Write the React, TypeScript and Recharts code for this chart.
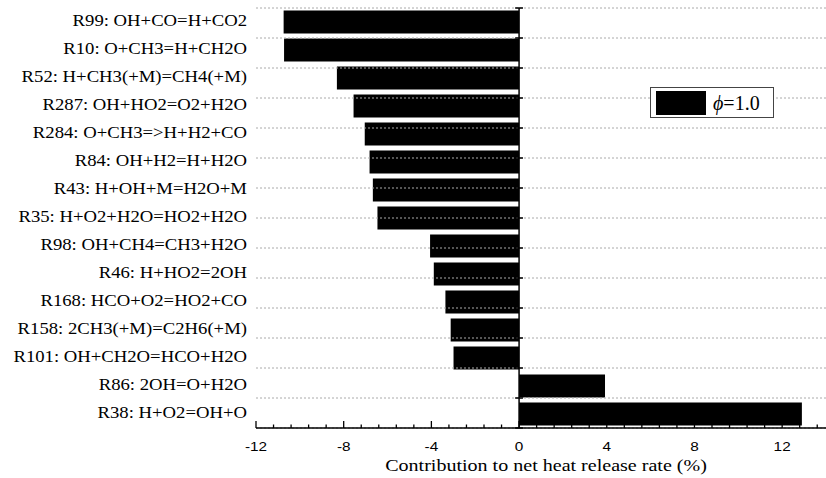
import { BarChart, Bar, XAxis, YAxis, ReferenceLine, Legend } from 'recharts';

const reactions = [
  'R99: OH+CO=H+CO2',
  'R10: O+CH3=H+CH2O',
  'R52: H+CH3(+M)=CH4(+M)',
  'R287: OH+HO2=O2+H2O',
  'R284: O+CH3=>H+H2+CO',
  'R84: OH+H2=H+H2O',
  'R43: H+OH+M=H2O+M',
  'R35: H+O2+H2O=HO2+H2O',
  'R98: OH+CH4=CH3+H2O',
  'R46: H+HO2=2OH',
  'R168: HCO+O2=HO2+CO',
  'R158: 2CH3(+M)=C2H6(+M)',
  'R101: OH+CH2O=HCO+H2O',
  'R86: 2OH=O+H2O',
  'R38: H+O2=OH+O',
];

const contribution = [
  -10.74, -10.72, -8.31, -7.55, -7.04, -6.82, -6.67, -6.46,
  -4.06, -3.89, -3.36, -3.12, -2.99, 3.92, 12.9,
];

const majorTicks = [-12, -8, -4, 0, 4, 8, 12];
// minor ticks every 0.8 between majors
const allTicks = Array.from({ length: 33 }, (_, i) => Math.round((-12 + i * 0.8) * 10) / 10);
// category boundaries on the helper axis
const boundaries = Array.from({ length: reactions.length + 1 }, (_, i) => i);

const data = reactions.map((name, i) => ({ name, value: contribution[i] }));

const SX = 1.18; // the source figure is stretched horizontally
const SX_LABEL = 1.1;
const serif = '"Liberation Serif", "Times New Roman", serif';
const sans = '"Liberation Sans", Arial, sans-serif';

const CategoryTick = (props: any) => {
  const { x, y, payload } = props;
  return (
    <text
      transform={`translate(${x},${y}) scale(${SX_LABEL},1)`}
      textAnchor="end"
      dy={4}
      fontFamily={serif}
      fontSize={17}
      fill="#000"
    >
      {payload.value}
    </text>
  );
};

const ValueTick = (props: any) => {
  const { x, y, payload } = props;
  const major = majorTicks.includes(payload.value);
  return (
    <g>
      <line x1={x} x2={x} y1={y} y2={y - (major ? 7 : 3.5)} stroke="#000" strokeWidth={1.3} />
      {major && (
        <text
          transform={`translate(${x},${y}) scale(${SX},1)`}
          textAnchor="middle"
          dy={23.4}
          fontFamily={sans}
          fontSize={13}
          fill="#000"
        >
          {payload.value}
        </text>
      )}
    </g>
  );
};

const AxisTitle = (props: any) => {
  const { viewBox } = props;
  const cx = viewBox.x + viewBox.width / 2 + 5;
  return (
    <text
      transform={`translate(${cx},${viewBox.y + 42.5}) scale(${SX},1)`}
      textAnchor="middle"
      fontFamily={serif}
      fontSize={17}
      fill="#000"
    >
      Contribution to net heat release rate (%)
    </text>
  );
};

const LegendBox = () => (
  <div
    style={{
      display: 'flex',
      alignItems: 'center',
      border: '1px solid #444',
      background: '#fff',
      width: 124,
      height: 31,
      boxSizing: 'border-box',
      padding: '0 0 0 5px',
    }}
  >
    <div style={{ width: 50, height: 24, background: '#000' }} />
    <span style={{ fontFamily: serif, fontSize: 20, marginLeft: 7, lineHeight: 1 }}>
      <i>ϕ</i>=1.0
    </span>
  </div>
);

export default function App() {
  return (
    <div style={{ position: 'absolute', left: 0, top: 0, background: '#fff' }}>
      <BarChart
        width={826}
        height={478}
        data={data}
        layout="vertical"
        margin={{ top: 8, right: 0, bottom: 0, left: 0 }}
        barCategoryGap="9%"
      >
        <XAxis
          type="number"
          domain={[-12, 14]}
          ticks={allTicks}
          interval={0}
          allowDataOverflow
          height={50}
          tickSize={0}
          tickMargin={0}
          tickLine={false}
          axisLine={{ stroke: '#000', strokeWidth: 1.5 }}
          tick={<ValueTick />}
          label={{ content: <AxisTitle /> }}
        />
        <YAxis
          type="category"
          dataKey="name"
          width={256}
          axisLine={false}
          tickLine={false}
          tickSize={0}
          tickMargin={9}
          interval={0}
          tick={<CategoryTick />}
        />
        <YAxis yAxisId="b" type="number" domain={[0, reactions.length]} hide />
        {boundaries.map((k) => (
          <ReferenceLine
            key={'g' + k}
            yAxisId="b"
            y={k}
            stroke="#aaa"
            strokeDasharray="2 2"
            strokeWidth={1}
          />
        ))}
        <Bar dataKey="value" fill="#000" isAnimationActive={false} />
        <ReferenceLine x={0} stroke="#000" strokeWidth={1.5} />
        {boundaries.map((k) => (
          <ReferenceLine
            key={'t' + k}
            yAxisId="b"
            segment={[
              { x: -0.18, y: k },
              { x: 0.18, y: k },
            ]}
            stroke="#000"
            strokeWidth={1.5}
          />
        ))}
        <Legend
          layout="horizontal"
          verticalAlign="middle"
          align="center"
          content={<LegendBox />}
          wrapperStyle={{ position: 'absolute', left: 650, top: 87, width: 'auto', height: 'auto' }}
        />
      </BarChart>
    </div>
  );
}
